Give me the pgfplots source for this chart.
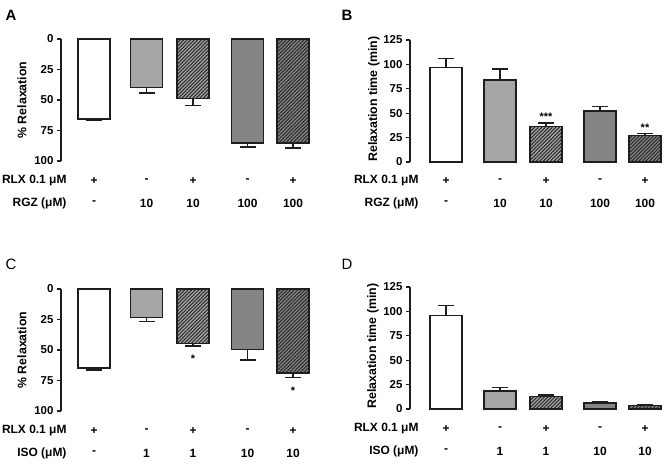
\documentclass[border=0pt]{standalone}
\usepackage{fontspec}
\setmainfont{Liberation Sans}
\usepackage{pgfplots}
\pgfplotsset{compat=1.18}
\usetikzlibrary{patterns.meta}

\definecolor{lg}{HTML}{A6A6A8}
\definecolor{mg}{HTML}{858585}
\definecolor{hl}{HTML}{2A2A2A}
\definecolor{ink}{HTML}{1E1E1E}

\newcommand{\tf}{\fontsize{12}{13}\selectfont\bfseries}
\newcommand{\lf}{\fontsize{12.4}{13}\selectfont\bfseries}

\pgfplotsset{
  panel/.style={
    scale only axis,
    anchor=north west,
    axis x line=none,
    axis y line*=left,
    axis line style={line width=1.3bp, ink},
    major tick style={line width=1.3bp, ink},
    tick align=outside,
    major tick length=4bp,
    yticklabel style={font=\fontsize{11.5}{12}\selectfont\bfseries},
    /pgf/number format/assume math mode=true,
    height=122bp,
    clip=false,
  },
  bar/.style={
    ybar, bar width=32, bar shift=0pt, draw=ink, line width=1.2bp,
    error bars/y dir=plus, error bars/y explicit,
    error bars/error bar style={line width=1.3bp, ink},
    error bars/error mark options={rotate=90, line width=1.3bp, ink, mark size=8bp},
  },
  hatch/.style={postaction={pattern={Lines[angle=45,distance=2.5bp,line width=1.05bp]}, pattern color=hl}},
}

\begin{document}
\begin{tikzpicture}
\useasboundingbox (0,0) rectangle (666bp,-464bp);
\fill[white] (0,0) rectangle (666bp,-464bp);

% ---------- Panel A ----------
\begin{axis}[panel, at={(61bp,-39bp)}, width=254bp, xmin=61, xmax=315,
  ymin=0, ymax=100, y dir=reverse, ytick={0,25,50,75,100}]
\addplot[bar, fill=white] coordinates {(94,65.6) +- (0,1.4)};
\addplot[bar, fill=lg] coordinates {(146.5,39.6) +- (0,4.7)};
\addplot[bar, fill=lg, hatch] coordinates {(193,48.6) +- (0,5.8)};
\addplot[bar, fill=mg] coordinates {(247.5,85.2) +- (0,3.3)};
\addplot[bar, fill=mg, hatch] coordinates {(293,85.2) +- (0,4.1)};
\end{axis}

% ---------- Panel B ----------
\begin{axis}[panel, at={(410bp,-40bp)}, width=256bp, xmin=410, xmax=666,
  ymin=0, ymax=125, ytick={0,25,50,75,100,125}]
\addplot[bar, fill=white] coordinates {(446,96.6) +- (0,9.2)};
\addplot[bar, fill=lg] coordinates {(500,84) +- (0,11.3)};
\addplot[bar, fill=lg, hatch] coordinates {(546,36.2) +- (0,3.8)};
\addplot[bar, fill=mg] coordinates {(600,52.3) +- (0,4.7)};
\addplot[bar, fill=mg, hatch] coordinates {(645,27) +- (0,2)};
\end{axis}

% ---------- Panel C ----------
\begin{axis}[panel, at={(61bp,-289bp)}, width=254bp, xmin=61, xmax=315,
  ymin=0, ymax=100, y dir=reverse, ytick={0,25,50,75,100}]
\addplot[bar, fill=white] coordinates {(94,64.8) +- (0,1.6)};
\addplot[bar, fill=lg] coordinates {(146.5,23.5) +- (0,3)};
\addplot[bar, fill=lg, hatch] coordinates {(193,44.8) +- (0,1.9)};
\addplot[bar, fill=mg] coordinates {(247.5,49.7) +- (0,8.5)};
\addplot[bar, fill=mg, hatch] coordinates {(293,68.9) +- (0,3.8)};
\end{axis}

% ---------- Panel D ----------
\begin{axis}[panel, at={(410bp,-287bp)}, width=256bp, xmin=410, xmax=666,
  ymin=0, ymax=125, ytick={0,25,50,75,100,125}]
\addplot[bar, fill=white] coordinates {(446,96) +- (0,9.8)};
\addplot[bar, fill=lg] coordinates {(500,18.4) +- (0,3.4)};
\addplot[bar, fill=lg, hatch] coordinates {(546,13) +- (0,1.3)};
\addplot[bar, fill=mg] coordinates {(600,6.1) +- (0,1.1)};
\addplot[bar, fill=mg, hatch] coordinates {(645,3.4) +- (0,1)};
\end{axis}

% panel letters
\node[font=\fontsize{15}{16}\selectfont\bfseries] at (11bp,-15bp) {A};
\node[font=\fontsize{15}{16}\selectfont\bfseries] at (347bp,-15bp) {B};
\node[font=\fontsize{15}{16}\selectfont] at (11bp,-264bp) {C};
\node[font=\fontsize{15}{16}\selectfont] at (347bp,-264bp) {D};

% y labels
\node[rotate=90, font=\lf] at (22bp,-100bp) {\% Relaxation};
\node[rotate=90, font=\lf] at (374bp,-99bp) {Relaxation time (min)};
\node[rotate=90, font=\lf] at (22bp,-350bp) {\% Relaxation};
\node[rotate=90, font=\lf] at (373bp,-346bp) {Relaxation time (min)};

% significance
\node[font=\fontsize{11}{12}\selectfont\bfseries] at (546bp,-117bp) {***};
\node[font=\fontsize{11}{12}\selectfont\bfseries] at (645bp,-128bp) {**};
\node[font=\fontsize{11}{12}\selectfont\bfseries] at (193bp,-359bp) {*};
\node[font=\fontsize{11}{12}\selectfont\bfseries] at (293bp,-391bp) {*};

% tables
\begin{scope}[every node/.style={font=\tf}]
% A
\node[anchor=east] at (70bp,-181bp) {RLX 0.1 μM};
\node[anchor=east] at (70bp,-203bp) {RGZ (μM)};
\foreach \x/\a/\b in {94/+/-,146.5/-/10,193/+/10,247.5/-/100,293/+/100}{
  \node at (\x bp,-181bp) {\a};
  \node at (\x bp,-203bp) {\b};
}
% B
\node[anchor=east] at (422bp,-181bp) {RLX 0.1 μM};
\node[anchor=east] at (422bp,-203bp) {RGZ (μM)};
\foreach \x/\a/\b in {446/+/-,500/-/10,546/+/10,600/-/100,645/+/100}{
  \node at (\x bp,-181bp) {\a};
  \node at (\x bp,-203bp) {\b};
}
% C
\node[anchor=east] at (70bp,-431bp) {RLX 0.1 μM};
\node[anchor=east] at (70bp,-453bp) {ISO (μM)};
\foreach \x/\a/\b in {94/+/-,146.5/-/1,193/+/1,247.5/-/10,293/+/10}{
  \node at (\x bp,-431bp) {\a};
  \node at (\x bp,-453bp) {\b};
}
% D
\node[anchor=east] at (422bp,-429bp) {RLX 0.1 μM};
\node[anchor=east] at (422bp,-451bp) {ISO (μM)};
\foreach \x/\a/\b in {446/+/-,500/-/1,546/+/1,600/-/10,645/+/10}{
  \node at (\x bp,-429bp) {\a};
  \node at (\x bp,-451bp) {\b};
}
\end{scope}
\end{tikzpicture}
\end{document}
